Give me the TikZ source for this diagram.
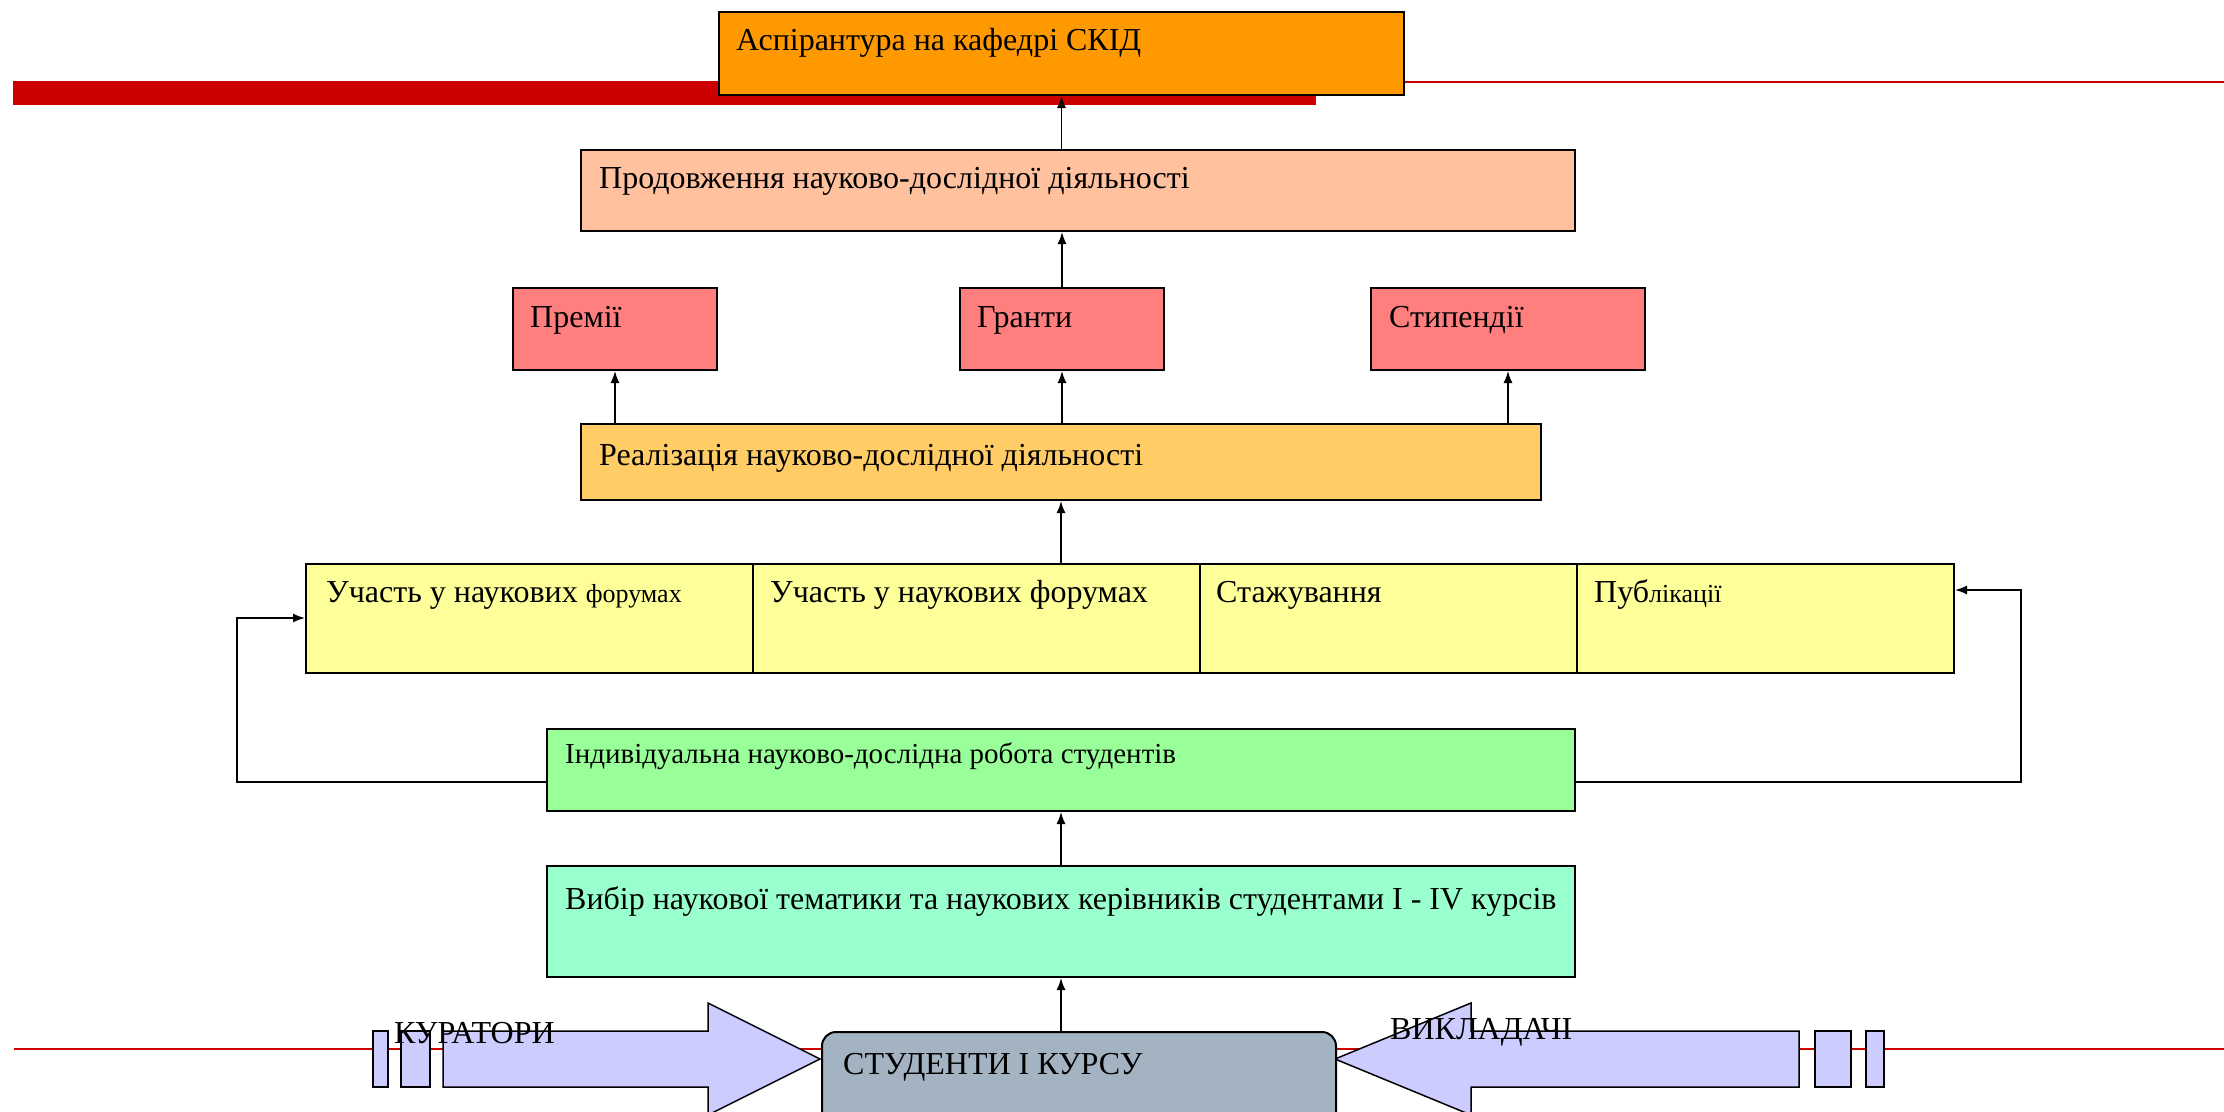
\documentclass[tikz,border=0pt]{standalone}
\usepackage{fontspec}
\setmainfont{Liberation Serif}
\usetikzlibrary{arrows.meta}
\definecolor{cOrange}{HTML}{FF9900}
\definecolor{cPeach}{HTML}{FFC19E}
\definecolor{cPink}{HTML}{FF7F7F}
\definecolor{cGold}{HTML}{FFCC66}
\definecolor{cYellow}{HTML}{FFFF99}
\definecolor{cGreen}{HTML}{99FF99}
\definecolor{cMint}{HTML}{99FFCC}
\definecolor{cSlate}{HTML}{A3B3C2}
\definecolor{cLilac}{HTML}{CCCCFF}
\definecolor{cRed}{HTML}{CC0000}
\begin{document}
\begin{tikzpicture}[x=1pt,y=-1pt,
  box/.style={draw=black, line width=2pt, inner sep=0pt, anchor=north west},
  txt/.style={anchor=base west, inner sep=0pt, font=\fontsize{32}{38}\selectfont},
  smalltxt/.style={anchor=base west, inner sep=0pt, font=\fontsize{29}{34}\selectfont},
  conn/.style={-{Latex[length=12pt,width=9pt]}, line width=1.5pt},
  loopline/.style={-{Latex[length=12pt,width=9pt]}, line width=1.5pt},
  bigarrow/.style={draw=black, line width=1.5pt, fill=cLilac},
  redline/.style={draw=cRed, line width=2.5pt}]
\useasboundingbox (0,0) rectangle (2224,1111);
\clip (0,0) rectangle (2224,1111);
% background red decorations
\fill[cRed] (13,81) rectangle (1316,105);
\draw[redline] (1316,82) -- (2224,82);
\draw[redline] (14,1049) -- (2224,1049);
% boxes
\node[box, fill=cOrange, minimum width=685, minimum height=83] (asp) at (718,11) {};
\node[box, fill=cPeach, minimum width=994, minimum height=81] (prod) at (580,149) {};
\node[box, fill=cPink, minimum width=204, minimum height=82] (prem) at (512,287) {};
\node[box, fill=cPink, minimum width=204, minimum height=82] (gr) at (959,287) {};
\node[box, fill=cPink, minimum width=274, minimum height=82] (stip) at (1370,287) {};
\node[box, fill=cGold, minimum width=960, minimum height=76] (real) at (580,423) {};
\node[box, fill=cYellow, minimum width=447, minimum height=109] (c1) at (305,563) {};
\node[box, fill=cYellow, minimum width=447, minimum height=109] (c2) at (752,563) {};
\node[box, fill=cYellow, minimum width=377, minimum height=109] (c3) at (1199,563) {};
\node[box, fill=cYellow, minimum width=377, minimum height=109] (c4) at (1576,563) {};
\node[box, fill=cGreen, minimum width=1028, minimum height=82] (ind) at (546,728) {};
\node[box, fill=cMint, minimum width=1028, minimum height=111] (vyb) at (546,865) {};
% bottom arrows and small bars
\draw[bigarrow] (443,1031) -- (708,1031) -- (708,1003) -- (820,1059) -- (708,1115) -- (708,1087) -- (443,1087) -- cycle;
\draw[bigarrow] (373,1031) rectangle (388,1087);
\draw[bigarrow] (401,1031) rectangle (430,1087);
\draw[bigarrow] (1799,1031) -- (1471,1031) -- (1471,1003) -- (1335,1059) -- (1471,1115) -- (1471,1087) -- (1799,1087) -- cycle;
\draw[bigarrow] (1815,1031) rectangle (1851,1087);
\draw[bigarrow] (1866,1031) rectangle (1884,1087);
\node[box, fill=cSlate, rounded corners=14pt, minimum width=514, minimum height=120] (stud) at (821,1031) {};
% texts
\node[txt] (tasp) at ([shift={(18,39)}]asp.north west) {Аспірантура на кафедрі СКІД};
\node[txt] (tprod) at ([shift={(19,39)}]prod.north west) {Продовження науково-дослідної діяльності};
\node[txt] (tprem) at ([shift={(18,40)}]prem.north west) {Премії};
\node[txt] (tgr) at ([shift={(18,40)}]gr.north west) {Гранти};
\node[txt] (tstip) at ([shift={(19,40)}]stip.north west) {Стипендії};
\node[txt] (treal) at ([shift={(19,42)}]real.north west) {Реалізація науково-дослідної діяльності};
\node[txt] (tc1) at ([shift={(21,39)}]c1.north west) {Участь у наукових {\fontsize{26}{30}\selectfont форумах}};
\node[txt] (tc2) at ([shift={(18,39)}]c2.north west) {Участь у наукових форумах};
\node[txt] (tc3) at ([shift={(17,39)}]c3.north west) {Стажування};
\node[txt] (tc4) at ([shift={(18,39)}]c4.north west) {Пуб{\fontsize{26}{30}\selectfont лікації}};
\node[smalltxt] (tind) at ([shift={(19,35)}]ind.north west) {Індивідуальна науково-дослідна робота студентів};
\node[txt] (tvyb) at ([shift={(19,44)}]vyb.north west) {Вибір наукової тематики та наукових керівників студентами I - IV курсів};
\node[txt] (tstud) at ([shift={(22,43)}]stud.north west) {СТУДЕНТИ І КУРСУ};
\node[txt] (tkur) at (394,1043) {КУРАТОРИ};
\node[txt] (tvyk) at (1390,1039) {ВИКЛАДАЧІ};
% connectors
\draw[conn] (vyb.south |- stud.north) -- (vyb.south);
\draw[conn] (vyb.north) -- (ind.south);
\draw[conn] (real.south |- c2.north) -- (real.south);
\draw[conn] (prem.south |- real.north) -- (prem.south);
\draw[conn] (gr.south |- real.north) -- (gr.south);
\draw[conn] (stip.south |- real.north) -- (stip.south);
\draw[conn] (gr.north) -- (gr.north |- prod.south);
\draw[conn] (asp.south |- prod.north) -- (asp.south);
\coordinate (L1) at (237,782);
\coordinate (L2) at (237,618);
\coordinate (R1) at (2021,782);
\coordinate (R2) at (2021,590);
\draw[loopline] (ind.west |- L1) -- (L1) -- (L2) -- (L2 -| c1.west);
\draw[loopline] (ind.east |- R1) -- (R1) -- (R2) -- (R2 -| c4.east);
\end{tikzpicture}
\end{document}
